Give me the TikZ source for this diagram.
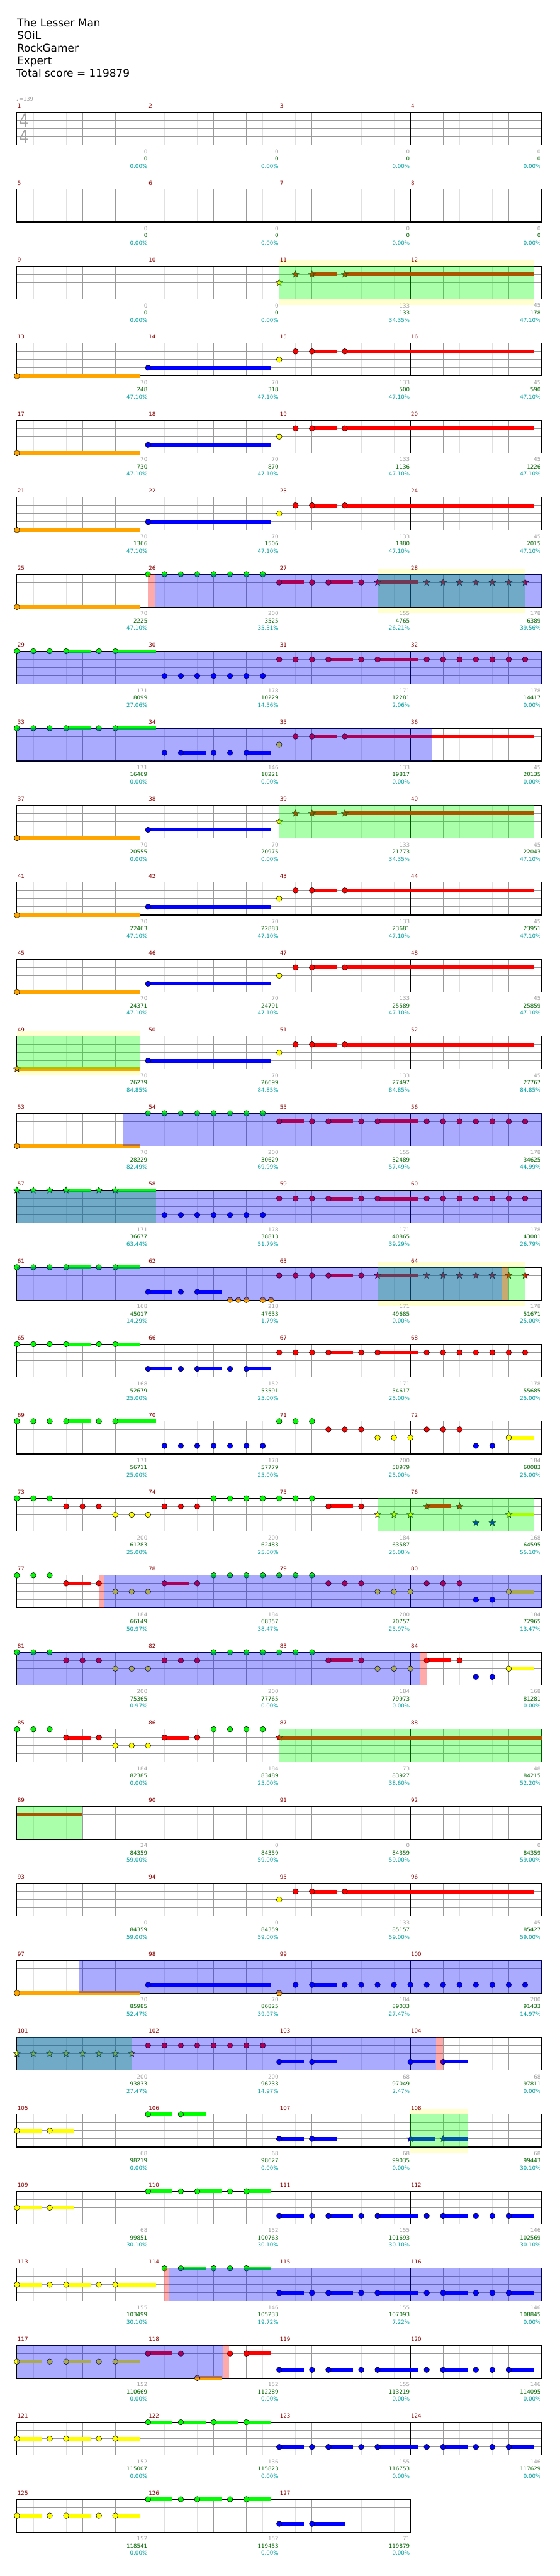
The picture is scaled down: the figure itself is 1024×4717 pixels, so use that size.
\documentclass[tikz,border=0pt]{standalone}
\usepackage{fontspec}
\setmainfont{DejaVu Sans}
\usetikzlibrary{shapes.geometric}
\definecolor{cR}{RGB}{255,0,0}
\definecolor{cG}{RGB}{0,255,0}
\definecolor{cY}{RGB}{255,255,0}
\definecolor{cB}{RGB}{0,0,255}
\definecolor{cO}{RGB}{255,165,0}
\definecolor{hlC}{RGB}{255,255,208}
\definecolor{mnC}{RGB}{139,0,0}
\definecolor{gyC}{RGB}{160,160,160}
\definecolor{gnC}{RGB}{0,100,0}
\definecolor{tlC}{RGB}{0,160,160}
\definecolor{lgC}{RGB}{224,224,224}
\definecolor{mgC}{RGB}{153,153,153}
\newcounter{nid}
\tikzset{
  starnote/.style={star,star points=5,star point ratio=2.3,minimum size=13pt,inner sep=0pt,draw=black,line width=0.5pt},
  mnum/.style={anchor=west,inner sep=0pt,text=mnC,font=\fontsize{10}{10}\selectfont},
  bnum/.style={anchor=east,inner sep=0pt,font=\fontsize{10}{10}\selectfont},
  hdr/.style={anchor=base west,inner sep=0pt,font=\fontsize{19.5}{19.5}\selectfont}
}
\newcommand\zRow[1]{\pgfmathsetmacro\zT{205.5+141*(#1)}}
\newcommand\zN[3]{\filldraw[fill=#3,draw=black,line width=0.6pt] ({31+15*(#1)},{\zT+15*(#2)}) circle[radius=5];}
\newcommand\zNs[3]{\foreach \zs in {#3}{\zN{\zs}{#1}{#2}}}
\newcommand\zS[3]{\stepcounter{nid}\node[starnote,fill=#3] (s\arabic{nid}) at ({31+15*(#1)},{\zT+15*(#2)}) {};}
\newcommand\zSs[3]{\foreach \zs in {#3}{\zS{\zs}{#1}{#2}}}
\newcommand\zU[4]{\fill[#4] ({31+15*(#1)},{\zT+15*(#3)-3.4}) rectangle ({31+15*(#2)},{\zT+15*(#3)+3.4});}
\newcommand\zO[3]{\fill[#3,fill opacity=0.3333] ({31+15*(#1)},\zT) rectangle ({31+15*(#2)},{\zT+60});}
\newcommand\zH[2]{\fill[hlC] ({31+15*(#1)},{\zT-10.5}) rectangle ({31+15*(#2)},{\zT+70.5});}
\newcommand\zB[4]{%
  \stepcounter{nid}\node[bnum,text=gyC] (b\arabic{nid}) at ({30+240*(#1)},{\zT+72}) {#2};%
  \stepcounter{nid}\node[bnum,text=gnC] (b\arabic{nid}) at ({30+240*(#1)},{\zT+85}) {#3};%
  \stepcounter{nid}\node[bnum,text=tlC] (b\arabic{nid}) at ({30+240*(#1)},{\zT+98.5}) {#4\%};}
\newcommand\zStaff[2]{%
  \pgfmathsetmacro\zW{240*(#1)}%
  \fill[white] (31,\zT) rectangle ({31+\zW},{\zT+60});
  \pgfmathtruncatemacro\zne{4*(#1)-1}%
  \foreach \i in {0,...,\zne} {\draw[lgC,line width=0.9pt] ({61+60*\i},\zT) -- ({61+60*\i},{\zT+60});}
  \foreach \i in {1,...,\zne} {\draw[mgC,line width=0.9pt] ({31+60*\i},\zT) -- ({31+60*\i},{\zT+60});}
  \foreach \j in {15,30,45} {\draw[mgC,line width=1pt] (31,{\zT+\j}) -- ({31+\zW},{\zT+\j});}
  \pgfmathtruncatemacro\znm{(#1)-1}%
  \foreach \i in {1,...,\znm} {\draw[black,line width=0.8pt] ({31+240*\i},\zT) -- ({31+240*\i},{\zT+60});}
  \draw[black,line width=1.3pt] (31,\zT) rectangle ({31+\zW},{\zT+60});
  \foreach \i in {0,...,\znm} {\pgfmathtruncatemacro\zmn{#2+\i}\stepcounter{nid}\node[mnum] (m\arabic{nid}) at ({32+240*\i},{\zT-11.5}) {\zmn};}
}
\newcommand\zRiffA{\zU{0}{15}{4}{cO}\zN{0}{4}{cO}\zU{16}{31}{3}{cB}\zN{16}{3}{cB}}
\newcommand\zRiffB{\zU{36}{39}{1}{cR}\zU{40}{63}{1}{cR}\zN{32}{2}{cY}\zNs{1}{cR}{34,36,40}}
\newcommand\zRiffBs{\zU{36}{39}{1}{cR}\zU{40}{63}{1}{cR}\zS{32}{2}{cY}\zSs{1}{cR}{34,36,40}}
\newcommand\zRiffC{\zU{32}{35}{3}{cB}\zU{38}{41}{3}{cB}\zU{44}{49}{3}{cB}\zU{52}{55}{3}{cB}\zU{60}{63}{3}{cB}\zNs{3}{cB}{32,36,38,42,44,50,52,56,58,60}}
\begin{document}
\begin{tikzpicture}[x=1pt,y=-1pt]
\useasboundingbox (0,0) rectangle (1024,4717);
\fill[white] (0,0) rectangle (1024,4717);
% header
\node[hdr] (h1) at (31,49) {The Lesser Man};
\node[hdr] (h2) at (31,72) {SOiL};
\node[hdr] (h3) at (31,95) {RockGamer};
\node[hdr] (h4) at (31,118) {Expert};
\node[hdr] (h5) at (30,141) {Total score = 119879};
\node[anchor=west,inner sep=0pt,text=gyC,font=\fontsize{9.5}{9.5}\selectfont] (tempo) at (30,181) {♩=139};
% row 0
\zRow{0}\zStaff{4}{1}
\node[inner sep=0pt,text=gyC,font=\fontsize{34}{34}\selectfont] (ts1) at (44.5,220.8) {\scalebox{0.82}[1]{4}};
\node[inner sep=0pt,text=gyC,font=\fontsize{34}{34}\selectfont] (ts2) at (44.5,250.8) {\scalebox{0.82}[1]{4}};
\zB{1}{0}{0}{0.00}\zB{2}{0}{0}{0.00}\zB{3}{0}{0}{0.00}\zB{4}{0}{0}{0.00}
% row 1
\zRow{1}\zStaff{4}{5}
\zB{1}{0}{0}{0.00}\zB{2}{0}{0}{0.00}\zB{3}{0}{0}{0.00}\zB{4}{0}{0}{0.00}
% row 2
\zRow{2}\zH{32}{63}\zStaff{4}{9}
\zRiffBs
\zO{32}{63}{cG}
\zB{1}{0}{0}{0.00}\zB{2}{0}{0}{0.00}\zB{3}{133}{133}{34.35}\zB{4}{45}{178}{47.10}
% row 3
\zRow{3}\zStaff{4}{13}
\zRiffA\zRiffB
\zB{1}{70}{248}{47.10}\zB{2}{70}{318}{47.10}\zB{3}{133}{500}{47.10}\zB{4}{45}{590}{47.10}
% row 4
\zRow{4}\zStaff{4}{17}
\zRiffA\zRiffB
\zB{1}{70}{730}{47.10}\zB{2}{70}{870}{47.10}\zB{3}{133}{1136}{47.10}\zB{4}{45}{1226}{47.10}
% row 5
\zRow{5}\zStaff{4}{21}
\zRiffA\zRiffB
\zB{1}{70}{1366}{47.10}\zB{2}{70}{1506}{47.10}\zB{3}{133}{1880}{47.10}\zB{4}{45}{2015}{47.10}
% row 6
\zRow{6}\zH{44}{62}\zStaff{4}{25}
\zU{0}{15}{4}{cO}\zN{0}{4}{cO}
\zNs{0}{cG}{16,18,...,30}
\zU{32}{35}{1}{cR}\zU{38}{41}{1}{cR}\zU{44}{49}{1}{cR}
\zNs{1}{cR}{32,36,38,42}
\zSs{1}{cR}{44,50,52,...,62}
\zO{44}{62}{cG}\zO{16.87}{64}{cB}\zO{16}{16.87}{cR}
\zB{1}{70}{2225}{47.10}\zB{2}{200}{3525}{35.31}\zB{3}{155}{4765}{26.21}\zB{4}{178}{6389}{39.56}
% row 7
\zRow{7}\zStaff{4}{29}
\zU{6}{9}{0}{cG}\zU{12}{17}{0}{cG}\zNs{0}{cG}{0,2,4,6,10,12}
\zNs{3}{cB}{18,20,...,30}
\zU{38}{41}{1}{cR}\zU{44}{49}{1}{cR}\zNs{1}{cR}{32,34,36,38,42,44,50,52,54,56,58,60,62}
\zO{0}{64}{cB}
\zB{1}{171}{8099}{27.06}\zB{2}{178}{10229}{14.56}\zB{3}{171}{12281}{2.06}\zB{4}{178}{14417}{0.00}
% row 8
\zRow{8}\zStaff{4}{33}
\zU{6}{9}{0}{cG}\zU{12}{17}{0}{cG}\zNs{0}{cG}{0,2,4,6,10,12}
\zU{20}{23}{3}{cB}\zU{28}{31}{3}{cB}\zNs{3}{cB}{18,20,24,26,28}
\zRiffB
\zO{0}{50.6}{cB}
\zB{1}{171}{16469}{0.00}\zB{2}{146}{18221}{0.00}\zB{3}{133}{19817}{0.00}\zB{4}{45}{20135}{0.00}
% row 9
\zRow{9}\zStaff{4}{37}
\zRiffA\zRiffBs
\zO{32}{63}{cG}
\zB{1}{70}{20555}{0.00}\zB{2}{70}{20975}{0.00}\zB{3}{133}{21773}{34.35}\zB{4}{45}{22043}{47.10}
% row 10
\zRow{10}\zStaff{4}{41}
\zRiffA\zRiffB
\zB{1}{70}{22463}{47.10}\zB{2}{70}{22883}{47.10}\zB{3}{133}{23681}{47.10}\zB{4}{45}{23951}{47.10}
% row 11
\zRow{11}\zStaff{4}{45}
\zRiffA\zRiffB
\zB{1}{70}{24371}{47.10}\zB{2}{70}{24791}{47.10}\zB{3}{133}{25589}{47.10}\zB{4}{45}{25859}{47.10}
% row 12
\zRow{12}\zH{0}{15}\zStaff{4}{49}
\zU{0}{15}{4}{cO}\zS{0}{4}{cO}\zU{16}{31}{3}{cB}\zN{16}{3}{cB}
\zRiffB
\zO{0}{15}{cG}
\zB{1}{70}{26279}{84.85}\zB{2}{70}{26699}{84.85}\zB{3}{133}{27497}{84.85}\zB{4}{45}{27767}{84.85}
% row 13
\zRow{13}\zStaff{4}{53}
\zU{0}{15}{4}{cO}\zN{0}{4}{cO}
\zNs{0}{cG}{16,18,...,30}
\zU{32}{35}{1}{cR}\zU{38}{41}{1}{cR}\zU{44}{49}{1}{cR}
\zNs{1}{cR}{32,36,38,42,44,50,52,54,56,58,60,62}
\zO{13}{64}{cB}
\zB{1}{70}{28229}{82.49}\zB{2}{200}{30629}{69.99}\zB{3}{155}{32489}{57.49}\zB{4}{178}{34625}{44.99}
% row 14
\zRow{14}\zStaff{4}{57}
\zU{6}{9}{0}{cG}\zU{12}{17}{0}{cG}\zSs{0}{cG}{0,2,4,6,10,12}
\zNs{3}{cB}{18,20,...,30}
\zU{38}{41}{1}{cR}\zU{44}{49}{1}{cR}\zNs{1}{cR}{32,34,36,38,42,44,50,52,54,56,58,60,62}
\zO{0}{17}{cG}\zO{0}{64}{cB}
\zB{1}{171}{36677}{63.44}\zB{2}{178}{38813}{51.79}\zB{3}{171}{40865}{39.29}\zB{4}{178}{43001}{26.79}
% row 15
\zRow{15}\zH{44}{62}\zStaff{4}{61}
\zU{6}{9}{0}{cG}\zU{12}{15}{0}{cG}\zNs{0}{cG}{0,2,4,6,10,12}
\zU{16}{19}{3}{cB}\zU{22}{25}{3}{cB}\zNs{3}{cB}{16,20,22}
\zNs{4}{cO}{26,27,28,30,31}
\zU{38}{41}{1}{cR}\zU{44}{49}{1}{cR}\zNs{1}{cR}{32,34,36,38,42}
\zSs{1}{cR}{44,50,52,54,56,58,60,62}
\zO{44}{62}{cG}\zO{0}{59.16}{cB}\zO{59.16}{60}{cR}
\zB{1}{168}{45017}{14.29}\zB{2}{218}{47633}{1.79}\zB{3}{171}{49685}{0.00}\zB{4}{178}{51671}{25.00}
% row 16
\zRow{16}\zStaff{4}{65}
\zU{6}{9}{0}{cG}\zU{12}{15}{0}{cG}\zNs{0}{cG}{0,2,4,6,10,12}
\zU{16}{19}{3}{cB}\zU{22}{25}{3}{cB}\zU{28}{31}{3}{cB}\zNs{3}{cB}{16,20,22,26,28}
\zU{38}{41}{1}{cR}\zU{44}{49}{1}{cR}\zNs{1}{cR}{32,34,36,38,42,44,50,52,54,56,58,60,62}
\zB{1}{168}{52679}{25.00}\zB{2}{152}{53591}{25.00}\zB{3}{171}{54617}{25.00}\zB{4}{178}{55685}{25.00}
% row 17
\zRow{17}\zStaff{4}{69}
\zU{6}{9}{0}{cG}\zU{12}{17}{0}{cG}\zNs{0}{cG}{0,2,4,6,10,12,32,34,36}
\zNs{3}{cB}{18,20,22,24,26,28,30,56,58}
\zNs{1}{cR}{38,40,42,50,52,54}
\zU{60}{63}{2}{cY}\zNs{2}{cY}{44,46,48,60}
\zB{1}{171}{56711}{25.00}\zB{2}{178}{57779}{25.00}\zB{3}{200}{58979}{25.00}\zB{4}{184}{60083}{25.00}
% row 18
\zRow{18}\zStaff{4}{73}
\zNs{0}{cG}{0,2,4,24,26,28,30,32,34,36}
\zU{38}{41}{1}{cR}\zNs{1}{cR}{6,8,10,18,20,22,38,42}
\zNs{2}{cY}{12,14,16}
\zSs{2}{cY}{44,46,48}
\zU{50}{53}{1}{cR}\zSs{1}{cR}{50,54}
\zSs{3}{cB}{56,58}
\zU{60}{63}{2}{cY}\zS{60}{2}{cY}
\zO{44}{63}{cG}
\zB{1}{200}{61283}{25.00}\zB{2}{200}{62483}{25.00}\zB{3}{184}{63587}{25.00}\zB{4}{168}{64595}{55.10}
% row 19
\zRow{19}\zStaff{4}{77}
\zNs{0}{cG}{0,2,4,24,26,28,30,32,34,36}
\zU{6}{9}{1}{cR}\zU{18}{21}{1}{cR}\zNs{1}{cR}{6,10,18,22,38,40,42,50,52,54}
\zU{60}{63}{2}{cY}\zNs{2}{cY}{12,14,16,44,46,48,60}
\zNs{3}{cB}{56,58}
\zO{10.65}{64}{cB}\zO{10.04}{10.65}{cR}
\zB{1}{184}{66149}{50.97}\zB{2}{184}{68357}{38.47}\zB{3}{200}{70757}{25.97}\zB{4}{184}{72965}{13.47}
% row 20
\zRow{20}\zStaff{4}{81}
\zNs{0}{cG}{0,2,4,24,26,28,30,32,34,36}
\zU{38}{41}{1}{cR}\zU{50}{53}{1}{cR}\zNs{1}{cR}{6,8,10,18,20,22,38,42,50,54}
\zU{60}{63}{2}{cY}\zNs{2}{cY}{12,14,16,44,46,48,60}
\zNs{3}{cB}{56,58}
\zO{0}{49.23}{cB}\zO{49.23}{50}{cR}
\zB{1}{200}{75365}{0.97}\zB{2}{200}{77765}{0.00}\zB{3}{184}{79973}{0.00}\zB{4}{168}{81281}{0.00}
% row 21
\zRow{21}\zStaff{4}{85}
\zNs{0}{cG}{0,2,4,24,26,28,30}
\zU{6}{9}{1}{cR}\zU{18}{21}{1}{cR}\zNs{1}{cR}{6,10,18,22}
\zNs{2}{cY}{12,14,16}
\zU{32}{64}{1}{cR}\zS{32}{1}{cR}
\zO{32}{64}{cG}
\zB{1}{184}{82385}{0.00}\zB{2}{184}{83489}{25.00}\zB{3}{73}{83927}{38.60}\zB{4}{48}{84215}{52.20}
% row 22
\zRow{22}\zStaff{4}{89}
\zU{0}{8}{1}{cR}
\zO{0}{8}{cG}
\zB{1}{24}{84359}{59.00}\zB{2}{0}{84359}{59.00}\zB{3}{0}{84359}{59.00}\zB{4}{0}{84359}{59.00}
% row 23
\zRow{23}\zStaff{4}{93}
\zRiffB
\zB{1}{0}{84359}{59.00}\zB{2}{0}{84359}{59.00}\zB{3}{133}{85157}{59.00}\zB{4}{45}{85427}{59.00}
% row 24
\zRow{24}\zStaff{4}{97}
\zRiffA
\zN{32}{4}{cO}
\zU{36}{39}{3}{cB}\zNs{3}{cB}{34,36,40,42,...,62}
\zO{7.6}{64}{cB}
\zB{1}{70}{85985}{52.47}\zB{2}{70}{86825}{39.97}\zB{3}{184}{89033}{27.47}\zB{4}{200}{91433}{14.97}
% row 25
\zRow{25}\zStaff{4}{101}
\zSs{2}{cY}{0,2,...,14}
\zNs{1}{cR}{16,18,...,30}
\zU{32}{35}{3}{cB}\zU{36}{39}{3}{cB}\zU{48}{51}{3}{cB}\zU{52}{55}{3}{cB}\zNs{3}{cB}{32,36,48,52}
\zO{0}{14.05}{cG}\zO{0}{51.15}{cB}\zO{51.15}{52}{cR}
\zB{1}{200}{93833}{27.47}\zB{2}{200}{96233}{14.97}\zB{3}{68}{97049}{2.47}\zB{4}{68}{97811}{0.00}
% row 26
\zRow{26}\zH{48}{55}\zStaff{4}{105}
\zU{0}{3}{2}{cY}\zU{4}{7}{2}{cY}\zNs{2}{cY}{0,4}
\zU{16}{19}{0}{cG}\zU{20}{23}{0}{cG}\zNs{0}{cG}{16,20}
\zU{32}{35}{3}{cB}\zU{36}{39}{3}{cB}\zNs{3}{cB}{32,36}
\zU{48}{51}{3}{cB}\zU{52}{55}{3}{cB}\zSs{3}{cB}{48,52}
\zO{48}{55}{cG}
\zB{1}{68}{98219}{0.00}\zB{2}{68}{98627}{0.00}\zB{3}{68}{99035}{0.00}\zB{4}{68}{99443}{30.10}
% row 27
\zRow{27}\zStaff{4}{109}
\zU{0}{3}{2}{cY}\zU{4}{7}{2}{cY}\zNs{2}{cY}{0,4}
\zU{16}{19}{0}{cG}\zU{22}{25}{0}{cG}\zU{28}{31}{0}{cG}\zNs{0}{cG}{16,20,22,26,28}
\zRiffC
\zB{1}{68}{99851}{30.10}\zB{2}{152}{100763}{30.10}\zB{3}{155}{101693}{30.10}\zB{4}{146}{102569}{30.10}
% row 28
\zRow{28}\zStaff{4}{113}
\zU{0}{3}{2}{cY}\zU{6}{9}{2}{cY}\zU{12}{17}{2}{cY}\zNs{2}{cY}{0,4,6,10,12}
\zU{20}{23}{0}{cG}\zU{28}{31}{0}{cG}\zNs{0}{cG}{18,20,24,26,28}
\zRiffC
\zO{18.62}{64}{cB}\zO{18}{18.62}{cR}
\zB{1}{155}{103499}{30.10}\zB{2}{146}{105233}{19.72}\zB{3}{155}{107093}{7.22}\zB{4}{146}{108845}{0.00}
% row 29
\zRow{29}\zStaff{4}{117}
\zU{0}{3}{2}{cY}\zU{6}{9}{2}{cY}\zU{12}{15}{2}{cY}\zNs{2}{cY}{0,4,6,10,12}
\zU{16}{19}{1}{cR}\zU{28}{31}{1}{cR}\zNs{1}{cR}{16,20,26,28}
\zU{22}{25}{4}{cO}\zN{22}{4}{cO}
\zRiffC
\zO{0}{25.19}{cB}\zO{25.19}{25.89}{cR}
\zB{1}{152}{110669}{0.00}\zB{2}{152}{112289}{0.00}\zB{3}{155}{113219}{0.00}\zB{4}{146}{114095}{0.00}
% row 30
\zRow{30}\zStaff{4}{121}
\zU{0}{3}{2}{cY}\zU{6}{9}{2}{cY}\zU{12}{15}{2}{cY}\zNs{2}{cY}{0,4,6,10,12}
\zU{16}{19}{0}{cG}\zU{20}{23}{0}{cG}\zU{24}{27}{0}{cG}\zU{28}{31}{0}{cG}\zNs{0}{cG}{16,20,24,28}
\zRiffC
\zB{1}{152}{115007}{0.00}\zB{2}{136}{115823}{0.00}\zB{3}{155}{116753}{0.00}\zB{4}{146}{117629}{0.00}
% row 31
\zRow{31}\zStaff{3}{125}
\zU{0}{3}{2}{cY}\zU{6}{9}{2}{cY}\zU{12}{15}{2}{cY}\zNs{2}{cY}{0,4,6,10,12}
\zU{16}{19}{0}{cG}\zU{22}{25}{0}{cG}\zU{28}{31}{0}{cG}\zNs{0}{cG}{16,20,22,26,28}
\zU{32}{35}{3}{cB}\zU{36}{40}{3}{cB}\zNs{3}{cB}{32,36}
\zB{1}{152}{118541}{0.00}\zB{2}{152}{119453}{0.00}\zB{3}{71}{119879}{0.00}
\end{tikzpicture}
\end{document}
